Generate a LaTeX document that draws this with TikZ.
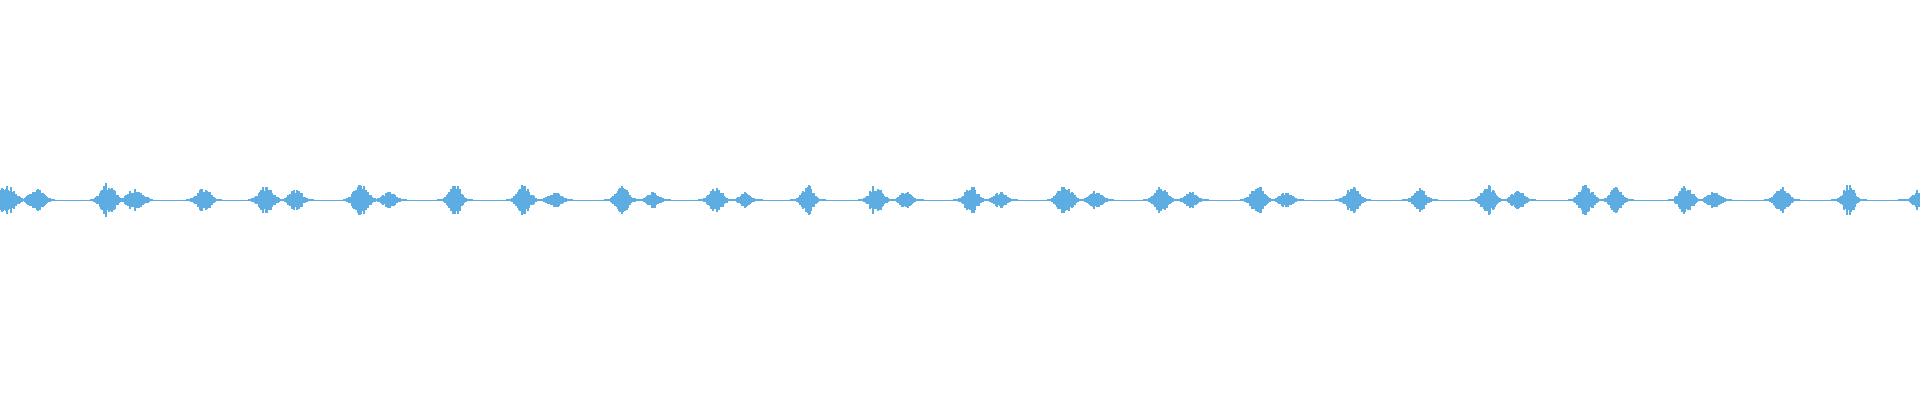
\documentclass[tikz,border=0pt]{standalone}
\definecolor{wv}{HTML}{5DADE2}
\tikzset{wave/.style={draw=wv,line width=1.1pt},base/.style={draw=wv,line width=0.8pt}}
\begin{document}
\begin{tikzpicture}[x=1pt,y=1pt]
\pgfmathsetseed{7}
\useasboundingbox (0,0) rectangle (1920,400);
\draw[base] (0,200) -- (1920,200);
\foreach \c/\a/\s in {6/17/10,37/11/9,108/17/9,135/11/10,204/14/8,266/14/9,296/11/8,361/16/9,389/8/8,455/17/7,524/16/8,555/9/8,622/14/8,653/8/7,716/14/8,745/8/7,808/15/7,876/15/8,906/9/7,971/14/8,1000/8/8,1065/15/9,1096/9/8,1161/13/8,1191/8/8,1258/15/8,1286/8/8,1353/14/8,1420/13/7,1488/15/8,1518/9/8,1586/16/8,1616/14/7,1686/15/8,1714/8/8,1782/13/8,1849/16/7,1916/10/5}{
  \foreach \i in {-17,-16,...,17}{
    \pgfmathsetmacro\h{\a*exp(-(\i/\s)^2)*(0.5+0.5*rnd)+0.6}
    \draw[wave] (\c+\i,200-\h) -- (\c+\i,200+\h);
  }
}
\end{tikzpicture}
\end{document}
